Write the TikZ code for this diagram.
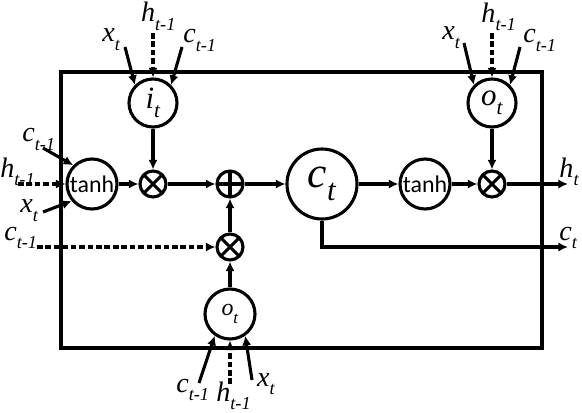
\documentclass[tikz,border=0pt]{standalone}
\usepackage{fontspec}
\setmainfont{Liberation Serif}
\newfontfamily\tanhfont{Carlito}
\usetikzlibrary{arrows.meta}
\newcommand{\vsub}[3][13]{\textit{#2}\raisebox{-0.3em}{\fontsize{#1}{#1}\selectfont\textit{#3}}}
\tikzset{
  frame/.style = {draw, line width=2.2pt},
  gate/.style  = {draw, circle, line width=2.2pt, minimum size=1.2cm, inner sep=0pt,
                  font=\fontsize{22}{22}\selectfont},
  act/.style   = {draw, circle, line width=2.2pt, minimum size=1.25cm, inner sep=0pt,
                  font=\tanhfont\fontsize{17}{17}\selectfont},
  cell/.style  = {draw, circle, line width=2.2pt, minimum size=1.75cm, inner sep=0pt,
                  font=\fontsize{31}{31}\selectfont},
  op/.style    = {draw, circle, line width=2.2pt, minimum size=0.65cm, inner sep=0pt},
  flow/.style  = {-{Latex[length=2.4mm, width=2.3mm]}, line width=2.2pt},
  dep/.style   = {flow, dash pattern=on 4pt off 2pt},
  lbl/.style   = {anchor=base west, inner sep=0pt, font=\fontsize{20}{20}\selectfont}
}
\begin{document}
\begin{tikzpicture}
\useasboundingbox (0,0) rectangle (14.55,10.3);
\draw[frame] (1.525,1.6) rectangle (13.55,8.5);

% gates and cell
\node[gate]                                    at ( 3.825, 7.725) (it)  {\vsub[15]{i}{t}};
\node[gate]                                    at (12.3  , 7.725) (ot)  {\vsub[15]{o}{t}};
\node[gate, minimum size=1.25cm,
      font=\fontsize{17}{17}\selectfont]       at ( 5.75 , 2.45 ) (ob)  {\vsub[12]{o}{t}};
\node[cell]                                    at ( 8.05 , 5.7  ) (ct)  {\vsub[22]{c}{t}};
\node[act]                                     at ( 2.3  , 5.7  ) (tl)  {tanh};
\node[act]                                     at (10.625, 5.7  ) (tr)  {tanh};
\node[op]                                      at ( 3.825, 5.7  ) (m1)  {};
\node[op]                                      at ( 5.75 , 5.7  ) (add) {};
\node[op]                                      at ( 5.75 , 4.125) (m2)  {};
\node[op]                                      at (12.3  , 5.7  ) (m3)  {};

\foreach \m in {m1,m2,m3}
  \draw[line width=2.2pt] ([shift={(45:0.325)}]\m.center) -- ([shift={(225:0.325)}]\m.center)
                          ([shift={(135:0.325)}]\m.center) -- ([shift={(315:0.325)}]\m.center);
\draw[line width=2.2pt] ([yshift=0.325cm]add.center) -- ([yshift=-0.325cm]add.center)
                        ([xshift=-0.325cm]add.center) -- ([xshift=0.325cm]add.center);

% labels
\node[lbl] at ( 2.55 , 9.25 ) (xi) {\vsub{x}{t}};
\node[lbl] at ( 3.52 , 9.76 ) (hi) {\vsub{h}{t-1}};
\node[lbl] at ( 4.575, 9.225) (ci) {\vsub{c}{t-1}};
\node[lbl] at (11.05 , 9.3  ) (xo) {\vsub{x}{t}};
\node[lbl] at (12.03 , 9.74 ) (ho) {\vsub{h}{t-1}};
\node[lbl] at (13.075, 9.225) (co) {\vsub{c}{t-1}};
\node[lbl] at ( 0.55 , 6.75 ) (cg) {\vsub{c}{t-1}};
\node[lbl] at ( 0    , 5.875) (hg) {\vsub{h}{t-1}};
\node[lbl] at ( 0.5  , 4.975) (xg) {\vsub{x}{t}};
\node[lbl] at ( 0.1  , 4.3  ) (cf) {\vsub{c}{t-1}};
\node[lbl] at ( 4.4  , 0.5  ) (cb) {\vsub{c}{t-1}};
\node[lbl] at ( 5.4  , 0.27 ) (hb) {\vsub{h}{t-1}};
\node[lbl] at ( 6.42 , 0.65 ) (xb) {\vsub{x}{t}};
\node[lbl] at (13.98 , 5.875) (hout) {\vsub{h}{t}};
\node[lbl] at (13.98 , 4.3  ) (cout) {\vsub{c}{t}};

% free ends
\coordinate (xi0) at ( 3.125, 9.125);
\coordinate (hi0) at ( 3.825, 9.475);
\coordinate (ci0) at ( 4.55 , 9.125);
\coordinate (xo0) at (11.6  , 9.225);
\coordinate (ho0) at (12.3  , 9.475);
\coordinate (co0) at (13.0  , 9.125);
\coordinate (cg0) at ( 1.075, 6.6  );
\coordinate (hg0) at ( 0.45 , 5.7  );
\coordinate (xg0) at ( 1.075, 5.0  );
\coordinate (cf0) at ( 0.925, 4.125);
\coordinate (cb0) at ( 4.975, 0.725);
\coordinate (hb0) at ( 5.75 , 0.7  );
\coordinate (xb0) at ( 6.3  , 0.8  );
\coordinate (h1)  at (14.2  , 5.7  );
\coordinate (c1)  at (14.2  , 4.125);

% inputs
\draw[flow] (xi0) -- (it.135);
\draw[dep]  (hi0) -- (it.north);
\draw[flow] (ci0) -- (it.45);
\draw[flow] (xo0) -- (ot.135);
\draw[dep]  (ho0) -- (ot.north);
\draw[flow] (co0) -- (ot.45);
\draw[flow] (cg0) -- (tl.135);
\draw[dep]  (hg0) -- (tl.west);
\draw[flow] (xg0) -- (tl.220);
\draw[dep]  (cf0) -- (m2.west);
\draw[flow] (cb0) -- (ob.235);
\draw[dep]  (hb0) -- (ob.south);
\draw[flow] (xb0) -- (ob.305);

% cell path
\draw[flow] (it.south) -- (m1.north);
\draw[flow] (tl.east)  -- (m1.west);
\draw[flow] (m1.east)  -- (add.west);
\draw[flow] (ob.north) -- (m2.south);
\draw[flow] (m2.north) -- (add.south);
\draw[flow] (add.east) -- (ct.west);
\draw[flow] (ct.east)  -- (tr.west);
\draw[flow] (tr.east)  -- (m3.west);
\draw[flow] (ot.south) -- (m3.north);
\draw[flow] (m3.east)  -- (h1);
\draw[flow] (ct.south) |- (c1);
\end{tikzpicture}
\end{document}
